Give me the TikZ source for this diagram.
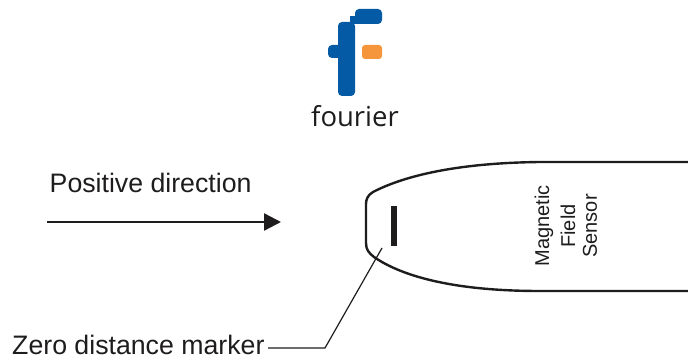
\documentclass[tikz,border=0pt]{standalone}
\usepackage{fontspec}
\setmainfont{Liberation Sans}
\newfontfamily\logofont{Open Sans}
\usetikzlibrary{arrows.meta}
\definecolor{logoblue}{RGB}{5,90,165}
\definecolor{logoorange}{RGB}{245,150,60}
\definecolor{ink}{RGB}{30,28,28}
\tikzset{
  label/.style={inner sep=0pt,text=ink,font=\fontsize{26.7}{30}\selectfont},
  sensortext/.style={inner sep=0pt,rotate=90,text=ink,font=\fontsize{20}{22}\selectfont},
  outline/.style={draw=ink,line width=2.4pt},
  leader/.style={draw=ink,line width=1.2pt},
}
\begin{document}
\begin{tikzpicture}[x=1pt,y=-1pt]
\useasboundingbox (0,0) rectangle (688,363);
% logo
\fill[logoblue,rounded corners=4pt] (338,96) rectangle (355,22);
\fill[logoblue,rounded corners=4pt] (355,24) rectangle (382,9);
\fill[logoblue] (350,24) rectangle (360,16);
\fill[logoblue,rounded corners=4pt] (328,45) rectangle (345,58);
\fill[logoorange,rounded corners=3pt] (362,45) rectangle (382,59);
\node[inner sep=0pt,anchor=base,text=ink,font=\fontsize{27.5}{30}\selectfont\logofont] (logotext) at (355,127) {fourier};
% direction
\node[label,anchor=base west] (pos) at (49.5,193) {Positive direction};
\coordinate (arrowstart) at (47,222);
\coordinate (arrowend) at (281,222);
\draw[draw=ink,line width=2.4pt,-{Triangle[length=17pt,width=17pt]}] (arrowstart) -- (arrowend);
% sensor
\draw[outline] (688,162) -- (540,162) .. controls (450,163) and (400,178) .. (373,192) .. controls (368,195) and (366,199) .. (366,204)
  -- (366,243) .. controls (366,250) and (369,253) .. (374,257) .. controls (400,275) and (450,291) .. (540,291) -- (688,291);
\fill[ink] (391,206) rectangle (397,246);
\node[sensortext] (s1) at (544,226) {Magnetic};
\node[sensortext] (s2) at (568,226) {Field};
\node[sensortext] (s3) at (590,226) {Sensor};
% leader
\coordinate (markerpt) at (382,248);
\coordinate (bend) at (325,348);
\node[label,anchor=base west] (zero) at (12,354) {Zero distance marker};
\draw[leader] (markerpt) -- (bend) -- (268,348);
\end{tikzpicture}
\end{document}
